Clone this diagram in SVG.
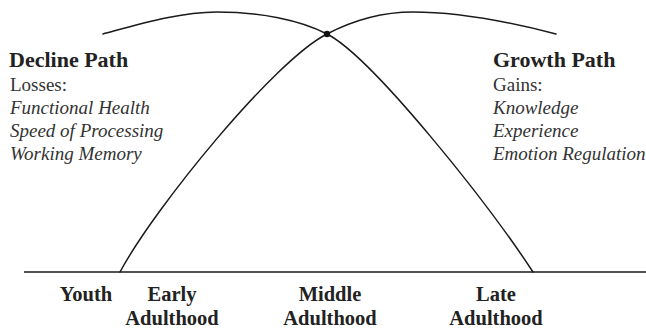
<svg xmlns="http://www.w3.org/2000/svg" width="646" height="331" viewBox="0 0 646 331">
<style>
.bg{fill:#ffffff}
.line{fill:none;stroke:#1a1a1a;stroke-width:1.5;stroke-linecap:round}
.axis{fill:none;stroke:#1a1a1a;stroke-width:1.4}
.title{font-family:"Liberation Serif","Times New Roman",serif;font-weight:bold;font-size:22px;fill:#222}
.plain{font-family:"Liberation Serif","Times New Roman",serif;font-size:19px;fill:#333}
.ital{font-family:"Liberation Serif","Times New Roman",serif;font-style:italic;font-size:19px;fill:#333}
.stage{font-family:"Liberation Serif","Times New Roman",serif;font-weight:bold;font-size:20.5px;fill:#222;text-anchor:middle}
</style>
<rect class="bg" x="0" y="0" width="646" height="331"/>
<g id="connectors">
<line class="axis" x1="24" y1="272" x2="646" y2="272"/>
<path id="growth-curve" class="line" d="M120,272 C155,207 275,60 327,34 C350,22 380,12 413,12 C460,12 510,22 556,34"/>
<path id="decline-curve" class="line" d="M103,34 C140,24 180,12 217,12 C260,12 300,20 327,34 C372,57 487,202 533,272"/>
</g>
<g id="crossing">
<circle cx="327" cy="34" r="3.2" fill="#111"/>
</g>
<g id="decline-path">
<text class="title" x="9" y="67">Decline Path</text>
<text class="plain" x="10" y="91">Losses:</text>
<text class="ital" x="10" y="114">Functional Health</text>
<text class="ital" x="10" y="137">Speed of Processing</text>
<text class="ital" x="10" y="160">Working Memory</text>
</g>
<g id="growth-path">
<text class="title" x="493" y="67">Growth Path</text>
<text class="plain" x="493" y="91">Gains:</text>
<text class="ital" x="493" y="114">Knowledge</text>
<text class="ital" x="493" y="137">Experience</text>
<text class="ital" x="493" y="160">Emotion Regulation</text>
</g>
<g id="youth"><text class="stage" x="86" y="301">Youth</text></g>
<g id="early-adulthood"><text class="stage" x="172" y="301">Early</text><text class="stage" x="172" y="325">Adulthood</text></g>
<g id="middle-adulthood"><text class="stage" x="330" y="301">Middle</text><text class="stage" x="330" y="325">Adulthood</text></g>
<g id="late-adulthood"><text class="stage" x="496" y="301">Late</text><text class="stage" x="496" y="325">Adulthood</text></g>
</svg>
